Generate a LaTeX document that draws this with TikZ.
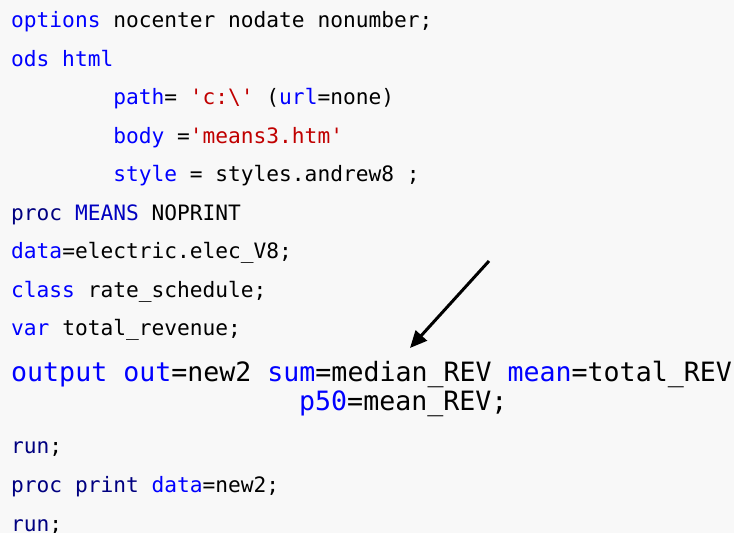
\documentclass[tikz,border=0pt]{standalone}
\usepackage{fontspec}
\setmonofont{DejaVu Sans Mono}
\usetikzlibrary{arrows.meta}
\definecolor{sasblue}{HTML}{0000FF}
\definecolor{sasnavy}{HTML}{000080}
\definecolor{sasmid}{HTML}{0000C0}
\definecolor{sasred}{HTML}{C00000}
\definecolor{bgcol}{HTML}{F8F8F8}
\newcommand{\kB}[1]{\textcolor{sasblue}{#1}}
\newcommand{\kN}[1]{\textcolor{sasnavy}{#1}}
\newcommand{\kM}[1]{\textcolor{sasmid}{#1}}
\newcommand{\kR}[1]{\textcolor{sasred}{#1}}
\begin{document}
\begin{tikzpicture}[x=1pt,y=1pt,
  codeline/.style={anchor=base west,inner sep=0pt,font=\ttfamily\fontsize{21.2}{24}\selectfont,text=black},
  bigline/.style={anchor=base west,inner sep=0pt,font=\ttfamily\fontsize{26.6}{30}\selectfont,text=black},
  pointer/.style={-{Triangle[length=17pt,width=15pt]},line width=3pt,black}]
\fill[bgcol] (0,0) rectangle (734,533);
\useasboundingbox (0,0) rectangle (734,533);
\node[codeline] (l1) at (11,505) {\kB{options} nocenter nodate nonumber;};
\node[codeline] (l2) at (11,466.5) {\kB{ods html}};
\node[codeline] (l3) at (113.1,428) {\kB{path}= \kR{'c:\textbackslash'} (\kB{url}=none)};
\node[codeline] (l4) at (113.1,389.5) {\kB{body} =\kR{'means3.htm'}};
\node[codeline] (l5) at (113.1,351) {\kB{style} = styles.andrew8 ;};
\node[codeline] (l6) at (11,312.5) {\kN{proc} \kM{MEANS} NOPRINT};
\node[codeline] (l7) at (11,274) {\kB{data}=electric.elec\_V8;};
\node[codeline] (l8) at (11,235.5) {\kB{class} rate\_schedule;};
\node[codeline] (l9) at (11,197) {\kB{var} total\_revenue;};
\node[bigline] (l10) at (11,151) {\kB{output} \kB{out}=new2 \kB{sum}=median\_REV \kB{mean}=total\_REV};
\node[bigline] (l11) at (299,122) {\kB{p50}=mean\_REV;};
\node[codeline] (l12) at (11,79) {\kN{run};};
\node[codeline] (l13) at (11,40) {\kN{proc} \kN{print} \kB{data}=new2;};
\node[codeline] (l14) at (11,1.5) {\kN{run};};
\coordinate (arrowstart) at (489,272);
\coordinate (arrowend) at (410,185);
\draw[pointer] (arrowstart) -- (arrowend);
\end{tikzpicture}
\end{document}
